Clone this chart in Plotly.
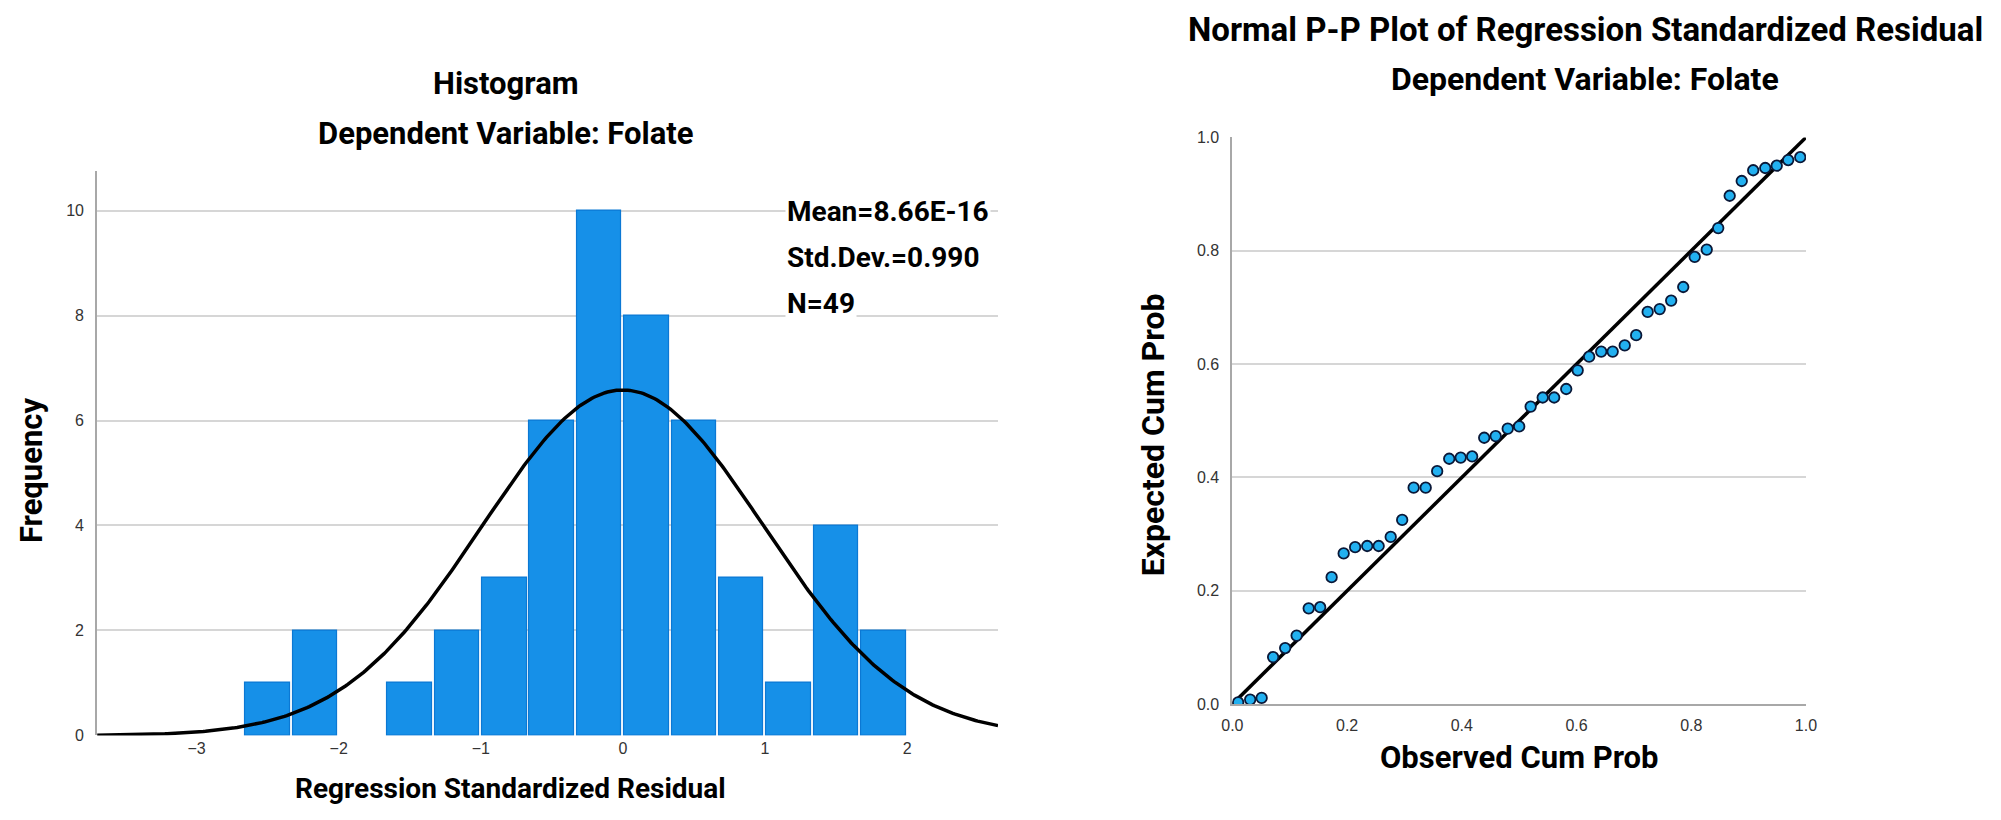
import numpy as np
import plotly.graph_objects as go

# ---------------- data ----------------
HIST_BIN_EDGES = [-8/3, -7/3, -2, -5/3, -4/3, -1, -2/3, -1/3, 0, 1/3, 2/3, 1, 4/3, 5/3, 2]
HIST_COUNTS = [1, 2, 0, 1, 2, 3, 6, 10, 8, 6, 3, 1, 4, 2]
RES_MEAN = 8.66e-16
RES_SD = 0.990
RES_N = 49
HIST_X_TICKS = [-3, -2, -1, 0, 1, 2]
HIST_Y_TICKS = [0, 2, 4, 6, 8, 10]

PP_OBSERVED = [0.010, 0.031, 0.051, 0.071, 0.092, 0.112, 0.133, 0.153, 0.173, 0.194,
               0.214, 0.235, 0.255, 0.276, 0.296, 0.316, 0.337, 0.357, 0.378, 0.398,
               0.418, 0.439, 0.459, 0.480, 0.500, 0.520, 0.541, 0.561, 0.582, 0.602,
               0.622, 0.643, 0.663, 0.684, 0.704, 0.724, 0.745, 0.765, 0.786, 0.806,
               0.827, 0.847, 0.867, 0.888, 0.908, 0.929, 0.949, 0.969, 0.990]
PP_EXPECTED = [0.003, 0.008, 0.011, 0.083, 0.099, 0.121, 0.169, 0.171, 0.224, 0.266,
               0.277, 0.279, 0.279, 0.295, 0.325, 0.382, 0.382, 0.411, 0.433, 0.435,
               0.437, 0.470, 0.473, 0.486, 0.490, 0.525, 0.541, 0.541, 0.556, 0.589,
               0.613, 0.622, 0.622, 0.633, 0.651, 0.692, 0.697, 0.712, 0.736, 0.789,
               0.802, 0.840, 0.897, 0.923, 0.942, 0.946, 0.950, 0.960, 0.965]
PP_TICKS = [0.0, 0.2, 0.4, 0.6, 0.8, 1.0]

# ---------------- derived ----------------
edges = np.array(HIST_BIN_EDGES)
centers = (edges[:-1] + edges[1:]) / 2
bw = float(edges[1] - edges[0])

HX_RANGE = [-3.70, 2.64]
HY_RANGE = [0, 10.76]
xc = np.linspace(HX_RANGE[0], HX_RANGE[1], 400)
yc = RES_N * bw * np.exp(-0.5 * ((xc - RES_MEAN) / RES_SD) ** 2) / (RES_SD * np.sqrt(2 * np.pi))

# page body has an 8px default margin; size figure so the page fits the window
OFF = 8
W, H = 2001 - 2 * OFF, 820 - 2 * OFF
def fx(p): return (p - OFF) / W
def fy(p): return 1 - (p - OFF) / H

BOLD = dict(family="Roboto", weight="bold", color="#000000")
TICKF = dict(family="Liberation Sans", size=16, color="#333333")
GRID = "#d6d6d6"
AXL = "#a8a8a8"

fig = go.Figure()
fig.add_trace(go.Bar(x=centers, y=HIST_COUNTS, width=bw * 0.94,
                     marker=dict(color="#1690e8",
                                 line=dict(color="#0b78d4",
                                           width=[1.2 if c > 0 else 0 for c in HIST_COUNTS])),
                     xaxis="x", yaxis="y", showlegend=False))
fig.add_trace(go.Scatter(x=xc, y=yc, mode="lines", line=dict(color="#000000", width=3.5),
                         xaxis="x", yaxis="y", showlegend=False))

fig.add_trace(go.Scatter(x=[0, 1], y=[0, 1], mode="lines", line=dict(color="#000000", width=3.5),
                         xaxis="x2", yaxis="y2", showlegend=False))
fig.add_trace(go.Scatter(x=PP_OBSERVED, y=PP_EXPECTED, mode="markers",
                         marker=dict(size=10.5, color="#22b0f0", line=dict(color="#0a1838", width=1.8)),
                         xaxis="x2", yaxis="y2", showlegend=False))

fig.update_layout(
    width=W, height=H, margin=dict(l=0, r=0, t=0, b=0),
    paper_bgcolor="white", plot_bgcolor="white",
    xaxis=dict(domain=[fx(87), fx(998)], range=HX_RANGE, tickvals=HIST_X_TICKS,
               showgrid=False, zeroline=False, showline=False, ticks="",
               tickfont=TICKF, anchor="y", ticklabelstandoff=2),
    yaxis=dict(domain=[fy(743), fy(166)], range=HY_RANGE, tickvals=HIST_Y_TICKS,
               showgrid=True, gridcolor=GRID, gridwidth=2, zeroline=False,
               showline=True, linecolor=AXL, linewidth=2, ticks="",
               tickfont=TICKF, anchor="x", ticklabelstandoff=8),
    xaxis2=dict(domain=[fx(1235), fx(1815)], range=[0, 1], tickvals=PP_TICKS,
                tickformat=".1f", showgrid=False, zeroline=False,
                showline=True, linecolor=AXL, linewidth=2, ticks="",
                tickfont=TICKF, anchor="y2", ticklabelstandoff=6),
    yaxis2=dict(domain=[fy(711), fy(132)], range=[0, 1], tickvals=PP_TICKS,
                tickformat=".1f", showgrid=True, gridcolor=GRID, gridwidth=2,
                zeroline=False, showline=True, linecolor=AXL, linewidth=2, ticks="",
                tickfont=TICKF, anchor="x2", ticklabelstandoff=8),
    bargap=0,
)

ann = []
def add(text, x, y, size, xanchor="center", yanchor="middle", angle=0, bg=None):
    d = dict(text=text, x=fx(x), y=fy(y), xref="paper", yref="paper", showarrow=False,
             xanchor=xanchor, yanchor=yanchor, textangle=angle,
             font=dict(BOLD, size=size))
    if bg:
        d["bgcolor"] = bg
    ann.append(d)

add("Histogram", 500, 77, 31)
add("Dependent Variable: Folate", 500, 128, 31)
add("Frequency", 20, 472, 31, angle=-90)
add("Regression Standardized Residual", 505, 797, 28)

add(f"Mean={RES_MEAN:.2E}", 783, 208, 28, xanchor="left", bg="white")
add(f"Std.Dev.={RES_SD:.3f}", 783, 255, 28, xanchor="left", bg="white")
add(f"N={RES_N}", 783, 302, 28, xanchor="left", bg="white")

add("Normal P-P Plot of Regression Standardized Residual", 1592, 22, 33)
add("Dependent Variable: Folate", 1592, 72, 32)
add("Observed Cum Prob", 1525, 766, 31)
add("Expected Cum Prob", 1155, 436, 32, angle=-90)

fig.update_layout(annotations=ann)
fig.write_html("out.html")
